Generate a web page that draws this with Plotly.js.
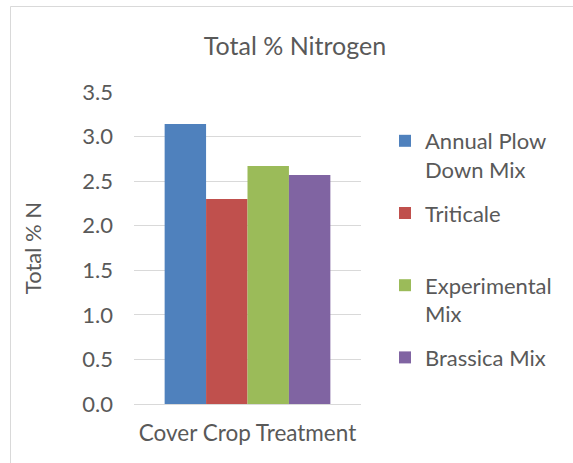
<!DOCTYPE html>
<html><head><meta charset="utf-8">
<script src="https://cdn.plot.ly/plotly-3.0.1.min.js"></script>
<style>html,body{margin:0;padding:0;background:#fff}</style>
</head><body><div id="chart" style="width:573px;height:463px"></div>
<script>
const categories = ["Cover Crop Treatment"];
const seriesNames = ["Annual Plow<br>Down Mix", "Triticale<br> ", "Experimental<br>Mix", "Brassica Mix<br> "];
const annualPlowDownMix = [3.14];
const triticale = [2.30];
const experimentalMix = [2.67];
const brassicaMix = [2.57];
const seriesValues = [annualPlowDownMix, triticale, experimentalMix, brassicaMix];
const yTickVals = [0, 0.5, 1.0, 1.5, 2.0, 2.5, 3.0, 3.5];
const yTickText = ["0.0", "0.5", "1.0", "1.5", "2.0", "2.5", "3.0", "3.5"];
const colors = ["#4F81BD", "#C0504D", "#9BBB59", "#8064A2"];

const FONT = "Lato, 'Open Sans', sans-serif";
const TXT = "#595959";

const traces = seriesNames.map((n, i) => ({
  type: "bar", name: n, x: categories, y: seriesValues[i],
  marker: {color: colors[i]}, legendgroup: "g" + i, hoverinfo: "y"
}));

const W = 573, H = 463, L = 134, R = 212, T = 92, B = 59;
const pw = W - L - R, ph = H - T - B;
const px = v => (v - L) / pw;
const py = v => (H - B - v) / ph;

const layout = {
  width: W, height: H,
  margin: {l: L, r: R, t: T, b: B, pad: 0},
  paper_bgcolor: "#fff", plot_bgcolor: "#fff",
  font: {family: FONT, color: TXT, size: 22},
  title: {text: "Total % Nitrogen", font: {size: 25, color: TXT, family: FONT},
          x: 295 / W, xref: "container", xanchor: "center",
          y: 1 - 46 / H, yref: "container", yanchor: "middle"},
  barmode: "group", bargap: 0.27, bargroupgap: 0,
  xaxis: {type: "category", showgrid: false, zeroline: false, showline: false,
          ticks: "", ticklabelstandoff: 13, tickfont: {size: 22.5, color: TXT}},
  yaxis: {range: [0, 3.5], tickvals: yTickVals, ticktext: yTickText,
          showgrid: true, gridcolor: "#D9D9D9", gridwidth: 1,
          zeroline: true, zerolinecolor: "#D9D9D9", zerolinewidth: 1,
          showline: false, ticks: "", ticklabelstandoff: 20,
          tickfont: {size: 22, color: TXT},
          title: {text: "Total % N", font: {size: 22, color: TXT}, standoff: 34}},
  legend: {x: px(385), xanchor: "left", y: py(120), yanchor: "top",
           font: {size: 22, color: TXT}, valign: "top", tracegroupgap: 12,
           bgcolor: "rgba(0,0,0,0)"},
  shapes: [{type: "rect", xref: "paper", yref: "paper",
            x0: px(10.5), x1: px(590), y0: py(480), y1: py(6.5),
            line: {color: "#D9D9D9", width: 1}, fillcolor: "rgba(0,0,0,0)", layer: "below"}]
};

Plotly.newPlot("chart", traces, layout, {displayModeBar: false, staticPlot: true});
</script></body></html>
